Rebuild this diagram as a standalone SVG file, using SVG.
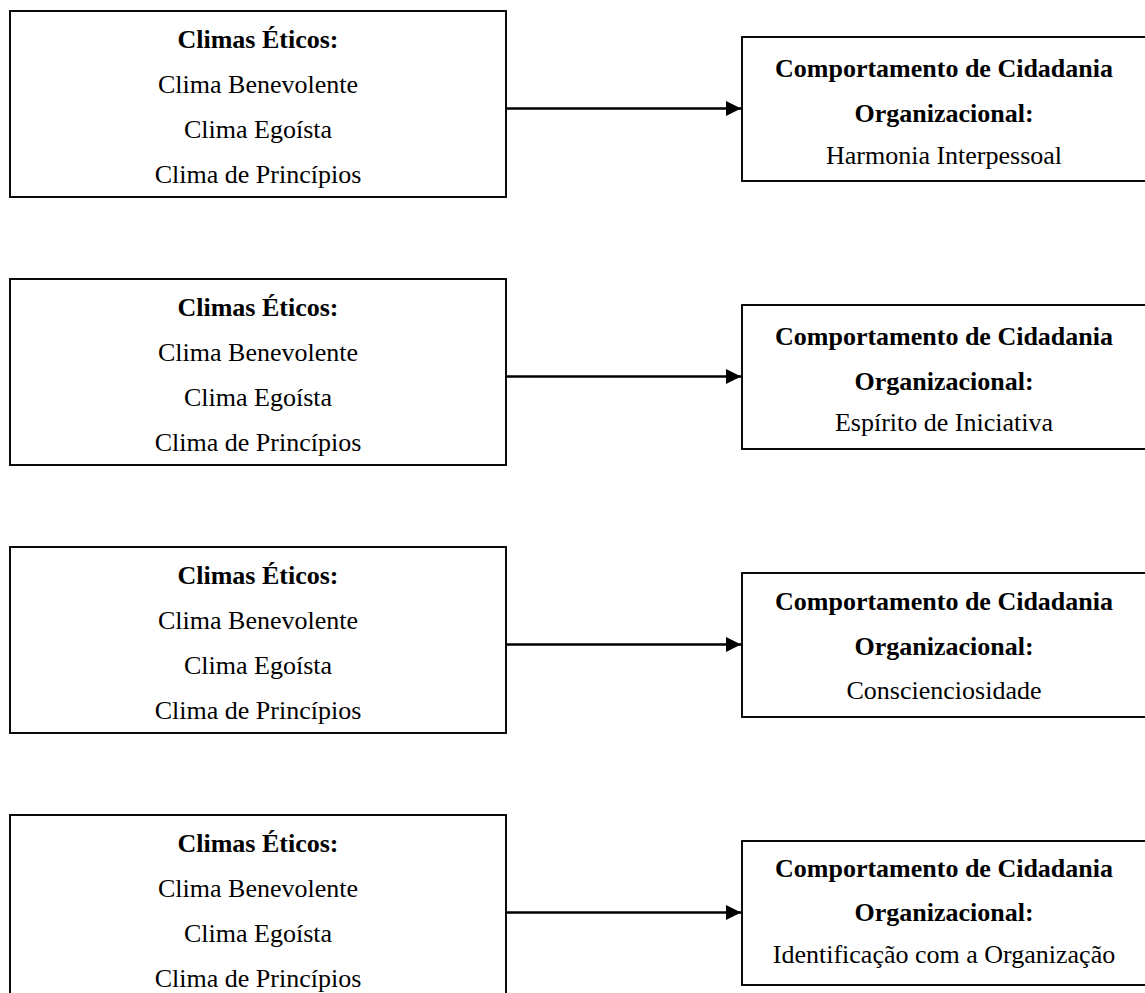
<svg xmlns="http://www.w3.org/2000/svg" width="1145" height="993" viewBox="0 0 1145 993">
<style>
.box{fill:#fff;stroke:#000;stroke-width:1.9}
.t{font-family:"Liberation Serif","Times New Roman",serif;font-size:26px;fill:#000;text-anchor:middle}
.b{font-weight:bold}
.c{stroke:#000;stroke-width:2.7;fill:none}
</style>
<defs>
<marker id="ah" markerWidth="16" markerHeight="16" refX="15" refY="7.5" orient="auto" markerUnits="userSpaceOnUse">
<polygon points="0,0 15,7.5 0,15" fill="#000"/>
</marker>
</defs>
<rect width="1145" height="993" fill="#fff"/>
<g id="connectors">
<line class="c" x1="506" y1="108.5" x2="741" y2="108.5" marker-end="url(#ah)"/>
<line class="c" x1="506" y1="376.5" x2="741" y2="376.5" marker-end="url(#ah)"/>
<line class="c" x1="506" y1="644.5" x2="741" y2="644.5" marker-end="url(#ah)"/>
<line class="c" x1="506" y1="912.5" x2="741" y2="912.5" marker-end="url(#ah)"/>
</g>
<g id="clima1">
<rect class="box" x="10" y="11" width="496" height="186"/>
<text class="t b" x="258" y="48">Climas Éticos:</text>
<text class="t" x="258" y="93">Clima Benevolente</text>
<text class="t" x="258" y="138">Clima Egoísta</text>
<text class="t" x="258" y="183">Clima de Princípios</text>
</g>
<g id="ocb1">
<rect class="box" x="742" y="37" width="410" height="144"/>
<text class="t b" x="944" y="77">Comportamento de Cidadania</text>
<text class="t b" x="944" y="122">Organizacional:</text>
<text class="t" x="944" y="164">Harmonia Interpessoal</text>
</g>
<g id="clima2">
<rect class="box" x="10" y="279" width="496" height="186"/>
<text class="t b" x="258" y="316">Climas Éticos:</text>
<text class="t" x="258" y="361">Clima Benevolente</text>
<text class="t" x="258" y="406">Clima Egoísta</text>
<text class="t" x="258" y="451">Clima de Princípios</text>
</g>
<g id="ocb2">
<rect class="box" x="742" y="305" width="410" height="144"/>
<text class="t b" x="944" y="345">Comportamento de Cidadania</text>
<text class="t b" x="944" y="390">Organizacional:</text>
<text class="t" x="944" y="431">Espírito de Iniciativa</text>
</g>
<g id="clima3">
<rect class="box" x="10" y="547" width="496" height="186"/>
<text class="t b" x="258" y="584">Climas Éticos:</text>
<text class="t" x="258" y="629">Clima Benevolente</text>
<text class="t" x="258" y="674">Clima Egoísta</text>
<text class="t" x="258" y="719">Clima de Princípios</text>
</g>
<g id="ocb3">
<rect class="box" x="742" y="573" width="410" height="144"/>
<text class="t b" x="944" y="610">Comportamento de Cidadania</text>
<text class="t b" x="944" y="655">Organizacional:</text>
<text class="t" x="944" y="699">Conscienciosidade</text>
</g>
<g id="clima4">
<rect class="box" x="10" y="815" width="496" height="186"/>
<text class="t b" x="258" y="852">Climas Éticos:</text>
<text class="t" x="258" y="897">Clima Benevolente</text>
<text class="t" x="258" y="942">Clima Egoísta</text>
<text class="t" x="258" y="987">Clima de Princípios</text>
</g>
<g id="ocb4">
<rect class="box" x="742" y="841" width="410" height="144"/>
<text class="t b" x="944" y="877">Comportamento de Cidadania</text>
<text class="t b" x="944" y="921">Organizacional:</text>
<text class="t" x="944" y="963">Identificação com a Organização</text>
</g>
</svg>
